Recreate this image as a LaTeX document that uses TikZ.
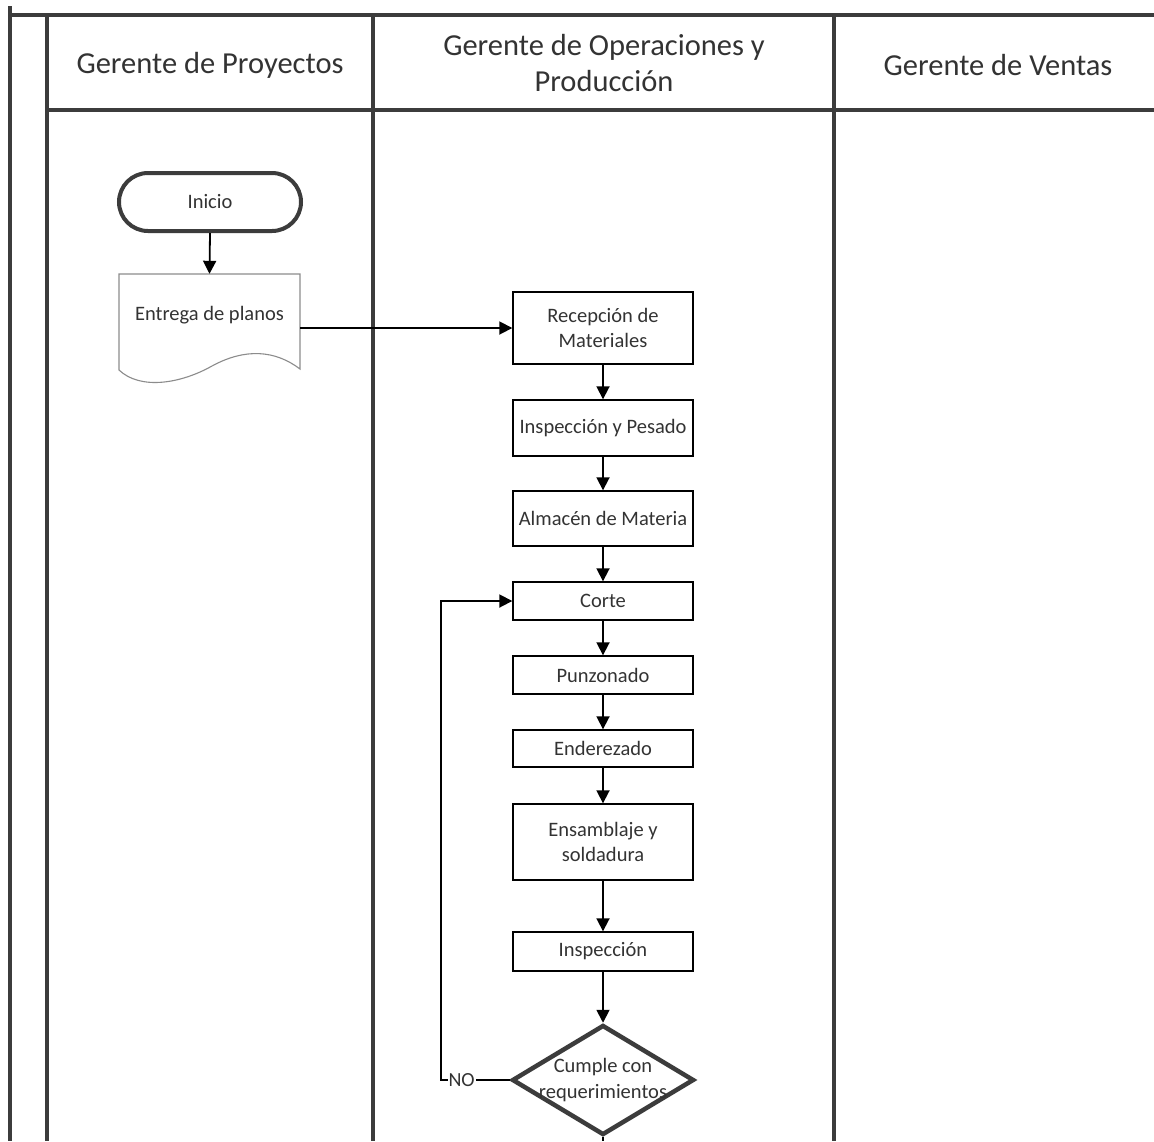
\documentclass[tikz,border=0pt]{standalone}
\usepackage{fontspec}
\setmainfont{Carlito}
\usetikzlibrary{arrows.meta,shapes.geometric}
\definecolor{lanegray}{HTML}{3C3C3C}
\definecolor{txtgray}{HTML}{333333}
\begin{document}
\begin{tikzpicture}[x=1pt,y=-1pt,
  lane/.style={line width=4.5pt,draw=lanegray},
  hdr/.style={font=\fontsize{30.5}{36}\selectfont,text=txtgray,align=center},
  boxfont/.style={font=\fontsize{20.5}{25.5}\selectfont,text=txtgray},
  proc/.style={draw=black,line width=1.4pt,minimum width=180pt,inner sep=1pt,
    boxfont,align=center},
  term/.style={draw=lanegray,line width=4pt,rounded corners=29pt,minimum width=182pt,
    minimum height=58pt,boxfont},
  decision/.style={diamond,draw=lanegray,line width=4.5pt,minimum width=182pt,
    minimum height=110pt,inner sep=0pt},
  flow/.style={line width=1.8pt,draw=black,-{Triangle[length=13pt,width=13pt]}},
  plain/.style={line width=1.8pt,draw=black},
  nolabel/.style={fill=white,inner sep=1pt,font=\fontsize{20}{22}\selectfont,text=txtgray}]
\useasboundingbox (0,0) rectangle (1154,1141);
\fill[white] (0,0) rectangle (1154,1141);

% lanes
\draw[lane] (10,6) -- (10,1141);
\draw[lane] (10,15) -- (1154,15);
\draw[lane] (47,15) -- (47,1141);
\draw[lane] (47,110) -- (1154,110);
\draw[lane] (373,15) -- (373,1141);
\draw[lane] (834,15) -- (834,1141);

% headers
\node[hdr] (h1) at (210,65) {Gerente de Proyectos};
\node[hdr] (h2) at (604,63) {Gerente de Operaciones y\\Producción};
\node[hdr] (h3) at (998,65) {Gerente de Ventas};

% nodes
\node[term] (inicio) at (210,202) {Inicio};
\node[minimum width=181pt,minimum height=82pt,inner sep=0pt,boxfont] (doc) at (209.5,315) {Entrega de planos};
\draw[draw=black!45,line width=1.1pt] (119,274) -- (300,274) -- (300,369)
  .. controls (275,350) and (245,348) .. (212,366)
  .. controls (180,384) and (140,390) .. (119,370) -- cycle;

\node[proc,minimum height=72pt] (recep) at (603,328) {Recepción de\\Materiales};
\node[proc,minimum height=56pt] (insp1) at (603,428) {Inspección y Pesado};
\node[proc,minimum height=55pt] (alm) at (603,518.5) {Almacén de Materia};
\node[proc,minimum height=38pt] (corte) at (603,601) {Corte};
\node[proc,minimum height=38pt] (punz) at (603,675) {Punzonado};
\node[proc,minimum height=37pt] (ender) at (603,748.5) {Enderezado};
\node[proc,minimum height=76pt] (ens) at (603,842) {Ensamblaje y\\soldadura};
\node[proc,minimum height=39pt] (insp2) at (603,951.5) {Inspección};
\node[decision,label={[boxfont,align=center,inner sep=0pt]center:Cumple con\\requerimientos}] (dec) at (603,1080) {};

\coordinate (exit) at (603,1141);
\coordinate (lc1) at (441,1080);
\coordinate (lc2) at (441,601);

% connectors
\draw[flow] (inicio.south) -- (doc.north);
\draw[flow] (recep.west -| doc.east) -- (recep.west);
\draw[flow] (recep) -- (insp1);
\draw[flow] (insp1) -- (alm);
\draw[flow] (alm) -- (corte);
\draw[flow] (corte) -- (punz);
\draw[flow] (punz) -- (ender);
\draw[flow] (ender) -- (ens);
\draw[flow] (ens) -- (insp2);
\draw[flow] (insp2) -- (dec.north);
\draw[plain] (dec.south) -- (exit);
\draw[flow] (dec.west) -- node[pos=0.7,nolabel]{NO} (lc1) -- (lc2) -- (corte.west);
\end{tikzpicture}
\end{document}
